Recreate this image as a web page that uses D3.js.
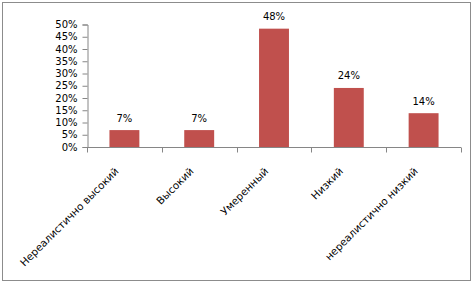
<!DOCTYPE html>
<meta charset="utf-8">
<script src="https://d3js.org/d3.v7.min.js"></script>
<style>
 body { margin: 0; background: #fff; }
 text { font-family: "DejaVu Sans", Verdana, sans-serif; font-size: 10px; fill: #000; }
</style>
<body>
<script>
// categories and shares (2, 2, 14, 7, 4 of 29)
var categories = ["Нереалистично высокий", "Высокий", "Умеренный", "Низкий", "нереалистично низкий"];
var values = [0.069, 0.069, 0.483, 0.241, 0.138];
var yTicks = [0, 0.05, 0.1, 0.15, 0.2, 0.25, 0.3, 0.35, 0.4, 0.45, 0.5];

var width = 475, height = 284;
var plotLeft = 87, plotRight = 461, plotTop = 24.5, plotBottom = 147;

var svg = d3.select("body").append("svg")
 .attr("width", width)
 .attr("height", height);

// outer frame
svg.append("rect")
 .attr("x", 2.5).attr("y", 2.5)
 .attr("width", 468).attr("height", 278)
 .attr("fill", "#fff")
 .attr("stroke", "#8c8c8c");

var x = d3.scaleBand().domain(categories).range([plotLeft, plotRight]);
var y = d3.scaleLinear().domain([0, 0.5]).range([plotBottom, plotTop]);

// y axis
var yAxis = svg.append("g")
 .attr("transform", "translate(" + (plotLeft + 0.5) + ",0)")
 .call(d3.axisLeft(y).tickValues(yTicks).tickFormat(d3.format(".0%")).tickSize(5).tickPadding(5));
yAxis.select(".domain").attr("stroke", "#868686");
yAxis.selectAll(".tick line").attr("stroke", "#868686");
yAxis.selectAll("text").style("font-size", "10px").style("font-family", "DejaVu Sans").attr("fill", "#000");

// x axis line and ticks between categories
var xAxis = svg.append("g").attr("transform", "translate(0," + (plotBottom + 0.5) + ")");
xAxis.append("line")
 .attr("x1", plotLeft).attr("x2", plotRight)
 .attr("stroke", "#868686");
var bounds = [plotLeft].concat(categories.map(function(c) { return x(c) + x.bandwidth(); }));
xAxis.selectAll("line.tk")
 .data(bounds)
 .enter().append("line")
 .attr("class", "tk")
 .attr("x1", function(d) { return Math.round(d) + 0.5; })
 .attr("x2", function(d) { return Math.round(d) + 0.5; })
 .attr("y1", 0).attr("y2", 5)
 .attr("stroke", "#868686");

// bars
var bw = x.bandwidth() * 0.4;
svg.selectAll("rect.bar")
 .data(values)
 .enter().append("rect")
 .attr("class", "bar")
 .attr("x", function(d, i) { return x(categories[i]) + (x.bandwidth() - bw) / 2; })
 .attr("y", function(d) { return y(d); })
 .attr("width", bw)
 .attr("height", function(d) { return plotBottom - y(d); })
 .attr("fill", "#C0504D");

// value labels
svg.selectAll("text.val")
 .data(values)
 .enter().append("text")
 .attr("class", "val")
 .attr("x", function(d, i) { return x(categories[i]) + x.bandwidth() / 2; })
 .attr("y", function(d) { return y(d) - 8.5; })
 .attr("text-anchor", "middle")
 .text(function(d) { return Math.round(d * 100) + "%"; });

// rotated category labels
svg.selectAll("text.cat")
 .data(categories)
 .enter().append("text")
 .attr("class", "cat")
 .attr("text-anchor", "end")
 .style("font-size", "10.4px")
 .attr("transform", function(d) {
   return "translate(" + (x(d) + x.bandwidth() / 2 - 5) + "," + (plotBottom + 25) + ") rotate(-45)";
 })
 .text(function(d) { return d; });
</script>
</body>
